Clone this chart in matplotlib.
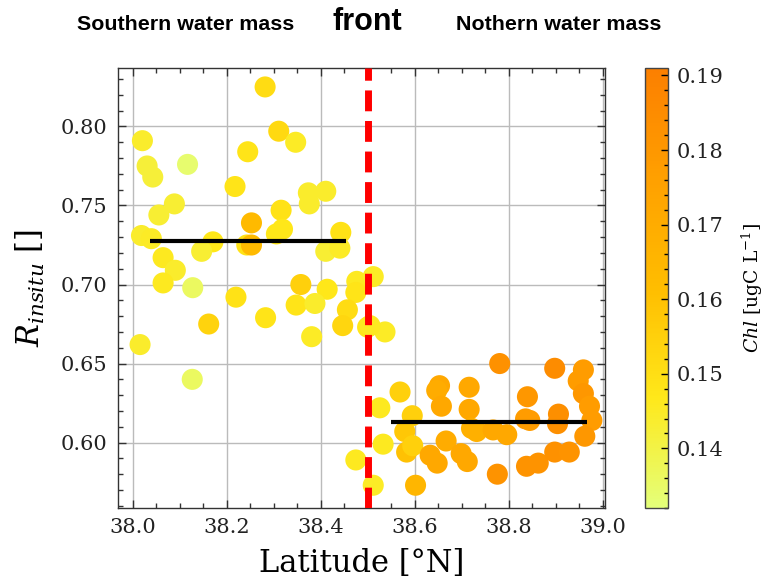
import numpy as np
import matplotlib
matplotlib.use("Agg")
import matplotlib.pyplot as plt
from matplotlib.ticker import MultipleLocator, FormatStrFormatter

# southern water mass samples: latitude, R_insitu, Chl
south_lat = [38.282, 38.311, 38.347, 38.245, 38.021, 38.031, 38.043, 38.117,
             38.218, 38.374, 38.411, 38.376, 38.089, 38.056, 38.316, 38.306,
             38.319, 38.019, 38.040, 38.171, 38.243, 38.253, 38.253, 38.443,
             38.411, 38.441, 38.147, 38.065, 38.091, 38.065, 38.128, 38.220,
             38.358, 38.414, 38.477, 38.475, 38.348, 38.388, 38.457, 38.447,
             38.500, 38.283, 38.162, 38.381, 38.016, 38.127, 38.475, 38.512,
             38.512, 38.537, 38.505]
south_r = [0.825, 0.797, 0.790, 0.784, 0.791, 0.775, 0.768, 0.776,
           0.762, 0.758, 0.759, 0.751, 0.751, 0.744, 0.747, 0.732,
           0.735, 0.731, 0.729, 0.727, 0.725, 0.739, 0.725, 0.733,
           0.721, 0.723, 0.721, 0.717, 0.709, 0.701, 0.698, 0.692,
           0.700, 0.697, 0.702, 0.695, 0.687, 0.688, 0.684, 0.674,
           0.673, 0.679, 0.675, 0.667, 0.662, 0.640, 0.589, 0.573,
           0.705, 0.670, 0.674]
south_chl = [0.151, 0.152, 0.145, 0.148, 0.144, 0.142, 0.142, 0.134,
             0.148, 0.144, 0.144, 0.144, 0.143, 0.143, 0.149, 0.147,
             0.147, 0.144, 0.145, 0.147, 0.149, 0.163, 0.163, 0.149,
             0.143, 0.145, 0.143, 0.146, 0.144, 0.146, 0.136, 0.149,
             0.155, 0.147, 0.146, 0.148, 0.148, 0.144, 0.151, 0.153,
             0.147, 0.148, 0.154, 0.145, 0.144, 0.136, 0.146, 0.145,
             0.145, 0.145, 0.146]

# northern water mass samples
north_lat = [38.526, 38.569, 38.533, 38.595, 38.579, 38.583, 38.596, 38.602,
             38.653, 38.647, 38.657, 38.667, 38.633, 38.648, 38.716, 38.716,
             38.721, 38.732, 38.699, 38.712, 38.781, 38.767, 38.796, 38.776,
             38.840, 38.836, 38.845, 38.838, 38.863, 38.898, 38.906, 38.904,
             38.898, 38.929, 38.959, 38.948, 38.959, 38.972, 38.977, 38.962]
north_r = [0.622, 0.632, 0.599, 0.617, 0.607, 0.594, 0.598, 0.573,
           0.636, 0.633, 0.623, 0.601, 0.592, 0.587, 0.635, 0.621,
           0.609, 0.607, 0.593, 0.588, 0.650, 0.608, 0.605, 0.580,
           0.629, 0.615, 0.614, 0.585, 0.587, 0.647, 0.618, 0.612,
           0.594, 0.594, 0.646, 0.639, 0.631, 0.623, 0.614, 0.604]
north_chl = [0.146, 0.155, 0.146, 0.155, 0.158, 0.160, 0.155, 0.165,
             0.172, 0.170, 0.172, 0.170, 0.172, 0.172, 0.172, 0.172,
             0.168, 0.168, 0.172, 0.172, 0.183, 0.172, 0.172, 0.182,
             0.180, 0.178, 0.178, 0.182, 0.182, 0.185, 0.184, 0.184,
             0.183, 0.182, 0.178, 0.178, 0.180, 0.178, 0.178, 0.180]

# mean R of each water mass and the latitude span of the mean line
south_mean, south_span = 0.7275, (38.038, 38.455)
north_mean, north_span = 0.613, (38.550, 38.967)
front_lat = 38.5

plt.rcParams['font.family'] = ['DejaVu Serif']
plt.rcParams['mathtext.fontset'] = 'dejavuserif'

fig = plt.figure(figsize=(7.67, 5.79), dpi=100)
ax = fig.add_axes([0.1538, 0.1226, 0.635, 0.760])
cax = fig.add_axes([0.841, 0.1226, 0.030, 0.760])

lat = south_lat + north_lat
r = south_r + north_r
chl = south_chl + north_chl
sc = ax.scatter(lat, r, c=chl, cmap='Wistia', vmin=0.132, vmax=0.191,
                s=230, edgecolors='none', zorder=3)

ax.hlines(south_mean, *south_span, color='black', lw=3, zorder=4)
ax.hlines(north_mean, *north_span, color='black', lw=3, zorder=4)
ax.axvline(front_lat, color='red', lw=5, linestyle=(0, (3.0, 1.4)), zorder=5)

ax.set_xlim(37.969, 39.005)
ax.set_ylim(0.5586, 0.837)
ax.xaxis.set_major_locator(MultipleLocator(0.2))
ax.xaxis.set_minor_locator(MultipleLocator(0.05))
ax.yaxis.set_major_locator(MultipleLocator(0.05))
ax.yaxis.set_minor_locator(MultipleLocator(0.01))
ax.xaxis.set_major_formatter(FormatStrFormatter('%.1f'))
ax.yaxis.set_major_formatter(FormatStrFormatter('%.2f'))
ax.grid(True, which='major', color='#bbbbbb', lw=1.0, zorder=0)
ax.set_axisbelow(True)
ax.tick_params(which='both', direction='in', top=True, right=True,
               labelsize=15, width=1.0, color='#333333', labelcolor='#222222')
ax.tick_params(which='major', length=6, pad=7.5)
ax.tick_params(which='minor', length=3.5)
for sp in ax.spines.values():
    sp.set_linewidth(1.0)
    sp.set_color('#333333')

ax.set_xlabel('Latitude [°N]', fontsize=22, labelpad=7.5)
ax.set_ylabel(r'$R_{insitu}$ []', fontsize=22, labelpad=10)

cb = fig.colorbar(sc, cax=cax)
cb.set_ticks([0.14, 0.15, 0.16, 0.17, 0.18, 0.19])
cb.ax.yaxis.set_minor_locator(MultipleLocator(0.002))
cb.ax.tick_params(which='both', direction='in', labelsize=15, width=1.0,
                  labelcolor='#222222')
cb.ax.tick_params(which='major', length=5, pad=6)
cb.ax.tick_params(which='minor', length=3)
cb.outline.set_linewidth(1.0)
cb.outline.set_edgecolor('#444444')
cb.set_label(r'$Chl$ [ugC L$^{-1}$]', fontsize=13.5, labelpad=12)

fig.text(186 / 767, 0.949, 'Southern water mass', fontsize=15.4,
         fontweight='bold', family='Liberation Sans', ha='center', va='baseline')
fig.text(367.5 / 767, 0.949, 'front', fontsize=22,
         fontweight='bold', family='Liberation Sans', ha='center', va='baseline')
fig.text(559 / 767, 0.949, 'Nothern water mass', fontsize=15.4,
         fontweight='bold', family='Liberation Sans', ha='center', va='baseline')

fig.savefig('out.png', dpi=100)
